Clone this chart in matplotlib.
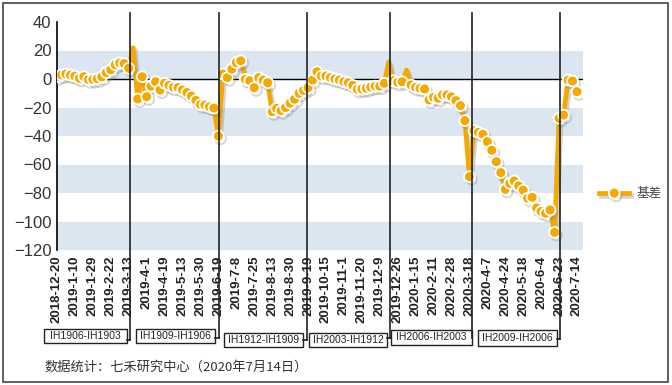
import matplotlib
matplotlib.use('Agg')
import matplotlib.pyplot as plt
import matplotlib.patheffects as pe
import matplotlib.transforms as mtransforms
from matplotlib.lines import Line2D
from matplotlib.patches import Rectangle

# 数据
dates = ['2018-12-20', '2019-1-10', '2019-1-29', '2019-2-22', '2019-3-13', '2019-4-1',
         '2019-4-19', '2019-5-13', '2019-5-30', '2019-6-19', '2019-7-8', '2019-7-25',
         '2019-8-13', '2019-8-30', '2019-9-19', '2019-10-15', '2019-11-1', '2019-11-20',
         '2019-12-9', '2019-12-26', '2020-1-15', '2020-2-11', '2020-2-28', '2020-3-18',
         '2020-4-7', '2020-4-24', '2020-5-18', '2020-6-4', '2020-6-23', '2020-7-14']

basis = [1.6, 2.8, 3.5, 2.8, 2.0, 0.5, 1.6, -0.5, -0.3, 0.2,
         1.5, 4.5, 6.5, 10.0, 11.3, 10.8, 7.5, 22.0, -14.0, 1.6,
         -12.4, -5.0, -1.9, -7.7, -3.0, -4.5, -5.8, -6.0, -7.7, -9.5,
         -12.0, -15.0, -18.0, -18.3, -19.5, -20.4, -40.0, 3.5, 1.0, 7.0,
         11.5, 12.8, -0.2, -1.2, -6.1, 0.9, -0.8, -2.6, -23.0, -20.6,
         -22.2, -20.0, -17.0, -14.2, -10.0, -8.0, -6.1, -0.7, 5.1, 2.1,
         2.1, 1.0, 0.0, -0.7, -1.9, -2.6, -4.5, -7.2, -7.0, -6.5,
         -5.6, -5.0, -4.9, -3.0, 12.0, -1.2, -2.3, -1.9, 6.3, -4.2,
         -5.8, -6.5, -7.0, -14.7, -12.9, -13.5, -11.2, -11.2, -12.5, -15.2,
         -18.7, -29.2, -68.5, -36.3, -37.5, -38.8, -44.0, -50.0, -58.0, -65.7,
         -77.4, -73.2, -71.6, -75.0, -78.0, -83.7, -83.0, -90.5, -93.0, -94.2,
         -91.9, -107.6, -27.6, -25.3, -0.7, -1.4, -8.9]
no_marker = [17, 74, 78]  # 只有线没有点的尖刺

# 换月标注
roll_pos = [16.3, 36.1, 55.8, 74.3, 92.6, 112.2]
roll_names = ['IH1906-IH1903', 'IH1909-IH1906', 'IH1912-IH1909',
              'IH2003-IH1912', 'IH2006-IH2003', 'IH2009-IH2006']

W, H = 672, 385
fig = plt.figure(figsize=(W / 100, H / 100), dpi=100)
ax = fig.add_axes([57 / W, 1 - 250 / H, 526 / W, 228 / H])

orange = '#F4A800'
band = '#DCE6F1'
for lo in (0, -40, -80, -120):
    ax.axhspan(lo, lo + 20, color=band, lw=0, zorder=0)
ax.axhline(0, color='black', lw=1, zorder=1)

x = list(range(len(basis)))
marks = [i for i in x if i not in no_marker]
ax.plot(x, basis, color=orange, lw=3.4, marker='o', markersize=7.8,
        markerfacecolor=orange, markeredgecolor='white', markeredgewidth=1.3,
        markevery=marks, label='基差', zorder=3,
        path_effects=[pe.SimpleLineShadow(offset=(1.5, -2), shadow_color='#888888', alpha=0.35),
                      pe.Normal()])

ax.set_xlim(0, 117.34)
ax.set_ylim(-120, 40)
ax.set_yticks(range(-120, 41, 20))
ax.set_xticks(range(0, len(basis), 4))
ax.set_xticklabels(dates, rotation=90, fontsize=9.5, fontweight='bold',
                   family='Liberation Sans', color='#222222')
for t in ax.get_yticklabels():
    t.set_family('Liberation Sans')
    t.set_fontsize(12)
    t.set_color('#333333')
ax.tick_params(axis='both', length=0)
ax.tick_params(axis='x', pad=4)
ax.tick_params(axis='y', pad=4)
for s in ('top', 'right', 'bottom'):
    ax.spines[s].set_visible(False)
ax.spines['left'].set_color('black')
ax.spines['left'].set_linewidth(1.2)

# 换月竖线和标签框
bt = mtransforms.blended_transform_factory(ax.transData, fig.transFigure)
boxes = [(44, 127, 329, 343, 340), (136, 215, 329, 343, 338), (224, 303, 333, 347, 340),
         (309, 387, 333, 347, 338), (391, 472, 330, 345, 338), (478, 557, 330, 346, 339)]
for pos, name, (bx0, bx1, by0, by1, cy) in zip(roll_pos, roll_names, boxes):
    fig.add_artist(Line2D([pos, pos], [1 - 13 / H, 1 - cy / H], transform=bt,
                          color='#222222', lw=1.2, zorder=5))
    lx = ax.transData.transform((pos, 0))[0]
    fig.add_artist(Line2D([lx / W, bx1 / W], [1 - cy / H, 1 - cy / H],
                          transform=fig.transFigure, color='#222222', lw=1.2))
    fig.add_artist(Rectangle((bx0 / W, 1 - by1 / H), (bx1 - bx0) / W, (by1 - by0) / H,
                             transform=fig.transFigure, facecolor='white',
                             edgecolor='#222222', lw=1))
    fig.text((bx0 + bx1) / 2 / W, 1 - (by0 + by1) / 2 / H, name, ha='center', va='center',
             fontsize=7.5, family='Liberation Sans', color='#222222')

# 图例
leg = ax.legend(loc='center left', bbox_to_anchor=(588 / W, 1 - 194 / H),
                bbox_transform=fig.transFigure, frameon=False, numpoints=1,
                handlelength=2.4, handletextpad=0.6,
                prop={'family': ['Noto Sans CJK SC', 'DejaVu Sans'], 'size': 9})
for t in leg.get_texts():
    t.set_color('#444444')

fig.text(44 / W, 1 - 367 / H, '数据统计：七禾研究中心（2020年7月14日）', ha='left', va='center',
         fontsize=9.5, color='#333333', family=['Noto Sans CJK SC', 'DejaVu Sans'])

# 外框
fig.add_artist(Rectangle((3 / W, 3 / H), 665 / W, 379 / H, transform=fig.transFigure,
                         fill=False, edgecolor='#444444', lw=1.2))

fig.savefig('out.png', dpi=100)
